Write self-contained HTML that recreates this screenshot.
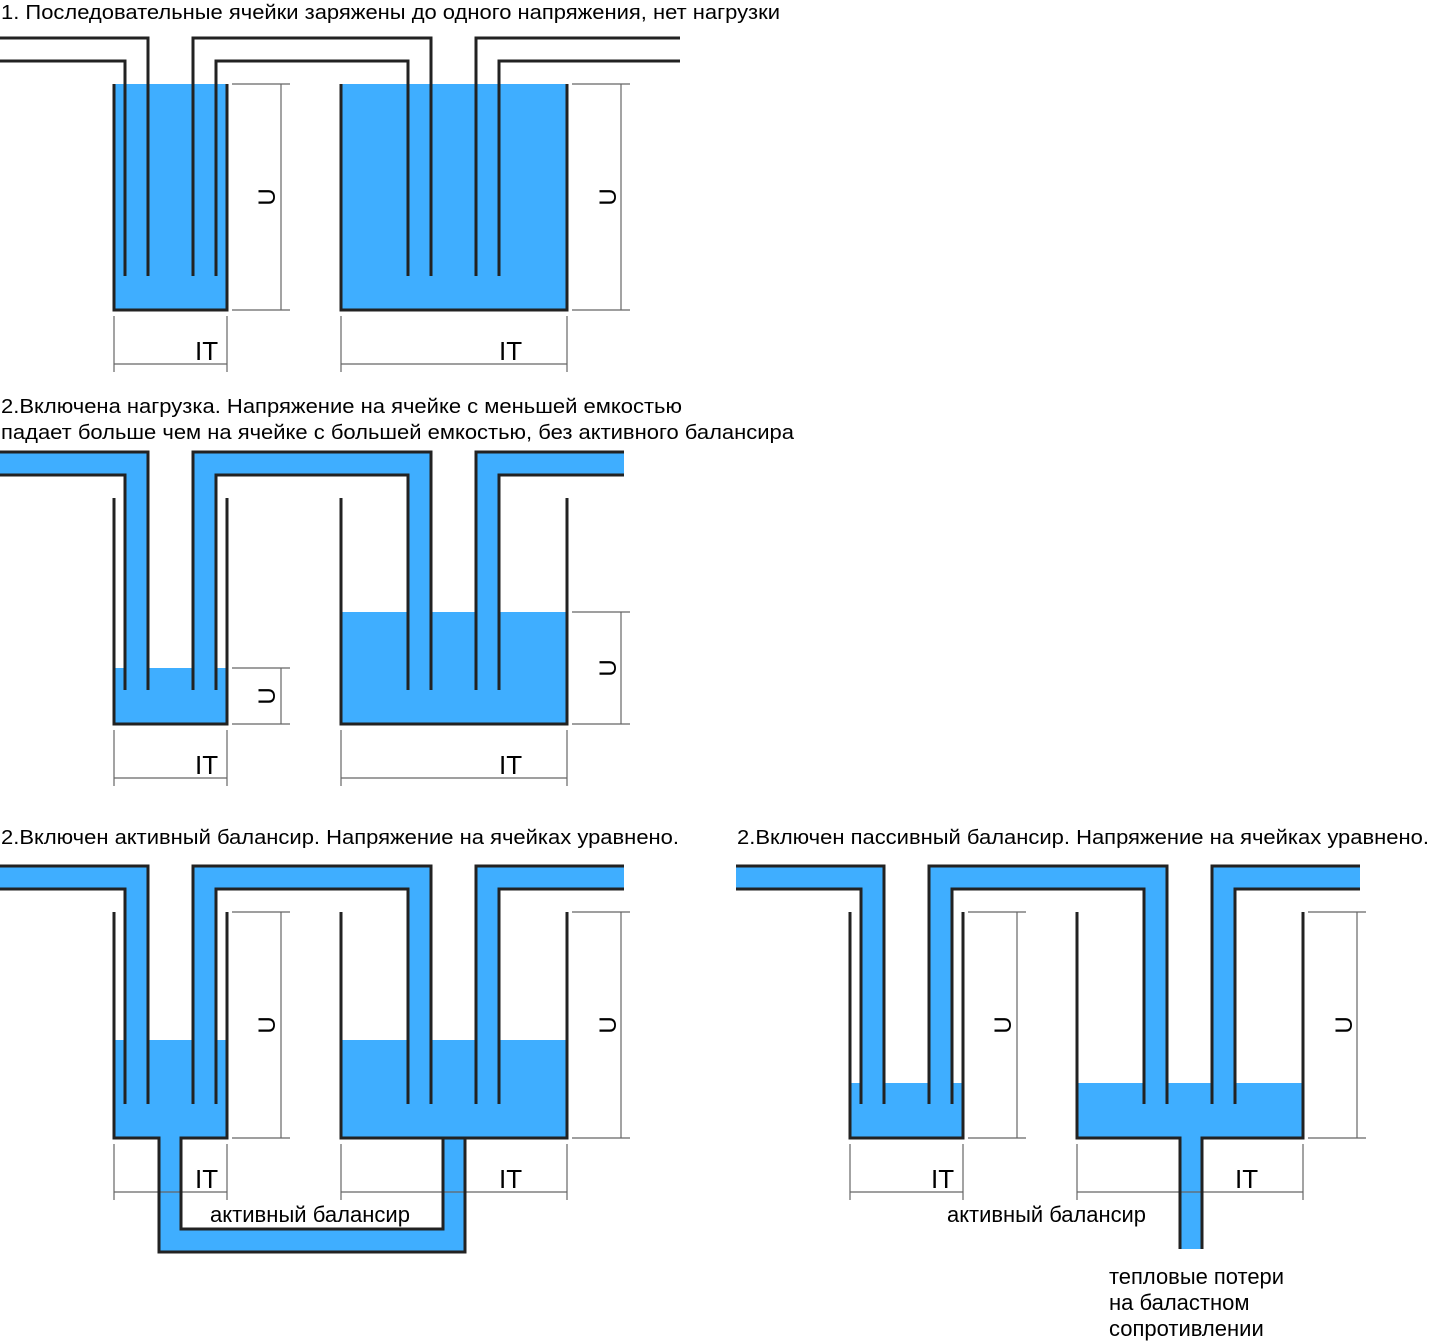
<!DOCTYPE html>
<html><head><meta charset="utf-8"><style>
html,body{margin:0;padding:0;background:#fff;}
svg{display:block;}
text{font-family:"Liberation Sans",Arial,sans-serif;fill:#000;}
</style></head><body>
<svg width="1430" height="1344" viewBox="0 0 1430 1344" xmlns="http://www.w3.org/2000/svg">

<!-- ===== Titles ===== -->
<text x="1" y="19" font-size="20" textLength="779" lengthAdjust="spacingAndGlyphs">1. Последовательные ячейки заряжены до одного напряжения, нет нагрузки</text>
<text x="1" y="413" font-size="20" textLength="681" lengthAdjust="spacingAndGlyphs">2.Включена нагрузка. Напряжение на ячейке с меньшей емкостью</text>
<text x="1" y="439" font-size="20" textLength="793" lengthAdjust="spacingAndGlyphs">падает больше чем на ячейке с большей емкостью, без активного балансира</text>
<text x="1" y="844" font-size="20" textLength="678" lengthAdjust="spacingAndGlyphs">2.Включен активный балансир. Напряжение на ячейках уравнено.</text>
<text x="737" y="844" font-size="20" textLength="692" lengthAdjust="spacingAndGlyphs">2.Включен пассивный балансир. Напряжение на ячейках уравнено.</text>

<!-- ===== Diagram 1 ===== -->
<g>
  <rect x="114" y="84" width="113" height="226" fill="#3faeff"/>
  <rect x="341" y="84" width="226" height="226" fill="#3faeff"/>
  <g fill="none" stroke="#222" stroke-width="3">
    <path d="M114,84 V310 H227 V84"/>
    <path d="M341,84 V310 H567 V84"/>
    <path d="M0,38 H148 V276"/><path d="M0,61 H125 V276"/>
    <path d="M193,276 V38 H431 V276"/><path d="M216,276 V61 H408 V276"/>
    <path d="M476,276 V38 H680"/><path d="M499,276 V61 H680"/>
  </g>
  <g fill="none" stroke="#666" stroke-width="1.2">
    <path d="M232,84 H290 M232,310 H290 M281,84 V310"/>
    <path d="M572,84 H630 M572,310 H630 M621,84 V310"/>
    <path d="M114,316 V372 M227,316 V372 M114,364 H227"/>
    <path d="M341,316 V372 M567,316 V372 M341,364 H567"/>
  </g>
  <text font-size="24" transform="translate(275,197) rotate(-90)" text-anchor="middle">U</text>
  <text font-size="24" transform="translate(616,197) rotate(-90)" text-anchor="middle">U</text>
  <text x="195" y="360" font-size="26">IT</text>
  <text x="499" y="360" font-size="26">IT</text>
</g>

<!-- ===== Diagram 2 ===== -->
<g transform="translate(0,414)">
  <rect x="114" y="254" width="113" height="56" fill="#3faeff"/>
  <rect x="341" y="198" width="226" height="112" fill="#3faeff"/>
  <g fill="none" stroke="#3faeff" stroke-width="23">
    <path d="M0,49.5 H136.5 V276"/>
    <path d="M204.5,276 V49.5 H419.5 V276"/>
    <path d="M487.5,276 V49.5 H624"/>
  </g>
  <g fill="none" stroke="#222" stroke-width="3">
    <path d="M114,84 V310 H227 V84"/>
    <path d="M341,84 V310 H567 V84"/>
    <path d="M0,38 H148 V276"/><path d="M0,61 H125 V276"/>
    <path d="M193,276 V38 H431 V276"/><path d="M216,276 V61 H408 V276"/>
    <path d="M476,276 V38 H624"/><path d="M499,276 V61 H624"/>
  </g>
  <g fill="none" stroke="#666" stroke-width="1.2">
    <path d="M232,254 H290 M232,310 H290 M281,254 V310"/>
    <path d="M572,198 H630 M572,310 H630 M621,198 V310"/>
    <path d="M114,316 V372 M227,316 V372 M114,364 H227"/>
    <path d="M341,316 V372 M567,316 V372 M341,364 H567"/>
  </g>
  <text font-size="24" transform="translate(275,282) rotate(-90)" text-anchor="middle">U</text>
  <text font-size="24" transform="translate(616,254) rotate(-90)" text-anchor="middle">U</text>
  <text x="195" y="360" font-size="26">IT</text>
  <text x="499" y="360" font-size="26">IT</text>
</g>

<!-- ===== Diagram 3 ===== -->
<g transform="translate(0,828)">
  <rect x="114" y="212" width="113" height="98" fill="#3faeff"/>
  <rect x="341" y="212" width="226" height="98" fill="#3faeff"/>
  <g fill="none" stroke="#3faeff" stroke-width="23">
    <path d="M0,49.5 H136.5 V276"/>
    <path d="M204.5,276 V49.5 H419.5 V276"/>
    <path d="M487.5,276 V49.5 H624"/>
    <path d="M170,300 V412.5 H454 V300"/>
  </g>
  <g fill="none" stroke="#666" stroke-width="1.2">
    <path d="M232,84 H290 M232,310 H290 M281,84 V310"/>
    <path d="M572,84 H630 M572,310 H630 M621,84 V310"/>
    <path d="M114,316 V372 M227,316 V372 M114,364 H227"/>
    <path d="M341,316 V372 M567,316 V372 M341,364 H567"/>
  </g>
  <g fill="none" stroke="#222" stroke-width="3">
    <path d="M114,84 V310 H159 V424 H465 V310 H341 V84"/>
    <path d="M227,84 V310 H181 V401 H443 V310 H567 V84"/>
    <path d="M0,38 H148 V276"/><path d="M0,61 H125 V276"/>
    <path d="M193,276 V38 H431 V276"/><path d="M216,276 V61 H408 V276"/>
    <path d="M476,276 V38 H624"/><path d="M499,276 V61 H624"/>
  </g>
  <text font-size="24" transform="translate(275,197) rotate(-90)" text-anchor="middle">U</text>
  <text font-size="24" transform="translate(616,197) rotate(-90)" text-anchor="middle">U</text>
  <text x="195" y="360" font-size="26">IT</text>
  <text x="499" y="360" font-size="26">IT</text>
  <text x="210" y="394" font-size="22" textLength="200" lengthAdjust="spacingAndGlyphs">активный балансир</text>
</g>

<!-- ===== Diagram 4 ===== -->
<g transform="translate(736,828)">
  <rect x="114" y="255" width="113" height="55" fill="#3faeff"/>
  <rect x="341" y="255" width="226" height="55" fill="#3faeff"/>
  <rect x="444" y="300" width="22" height="121" fill="#3faeff"/>
  <g fill="none" stroke="#3faeff" stroke-width="23">
    <path d="M0,49.5 H136.5 V276"/>
    <path d="M204.5,276 V49.5 H419.5 V276"/>
    <path d="M487.5,276 V49.5 H624"/>
  </g>
  <g fill="none" stroke="#666" stroke-width="1.2">
    <path d="M232,84 H290 M232,310 H290 M281,84 V310"/>
    <path d="M572,84 H630 M572,310 H630 M621,84 V310"/>
    <path d="M114,316 V372 M227,316 V372 M114,364 H227"/>
    <path d="M341,316 V372 M567,316 V372 M341,364 H567"/>
  </g>
  <g fill="none" stroke="#222" stroke-width="3">
    <path d="M114,84 V310 H227 V84"/>
    <path d="M341,84 V310 H444 V421"/>
    <path d="M567,84 V310 H466 V421"/>
    <path d="M0,38 H148 V276"/><path d="M0,61 H125 V276"/>
    <path d="M193,276 V38 H431 V276"/><path d="M216,276 V61 H408 V276"/>
    <path d="M476,276 V38 H624"/><path d="M499,276 V61 H624"/>
  </g>
  <text font-size="24" transform="translate(275,197) rotate(-90)" text-anchor="middle">U</text>
  <text font-size="24" transform="translate(616,197) rotate(-90)" text-anchor="middle">U</text>
  <text x="195" y="360" font-size="26">IT</text>
  <text x="499" y="360" font-size="26">IT</text>
  <text x="211" y="394" font-size="22" textLength="199" lengthAdjust="spacingAndGlyphs">активный балансир</text>
</g>
<text x="1109" y="1284" font-size="22" textLength="175" lengthAdjust="spacingAndGlyphs">тепловые потери</text>
<text x="1109" y="1310" font-size="22">на баластном</text>
<text x="1109" y="1336" font-size="22">сопротивлении</text>
</svg>
</body></html>
